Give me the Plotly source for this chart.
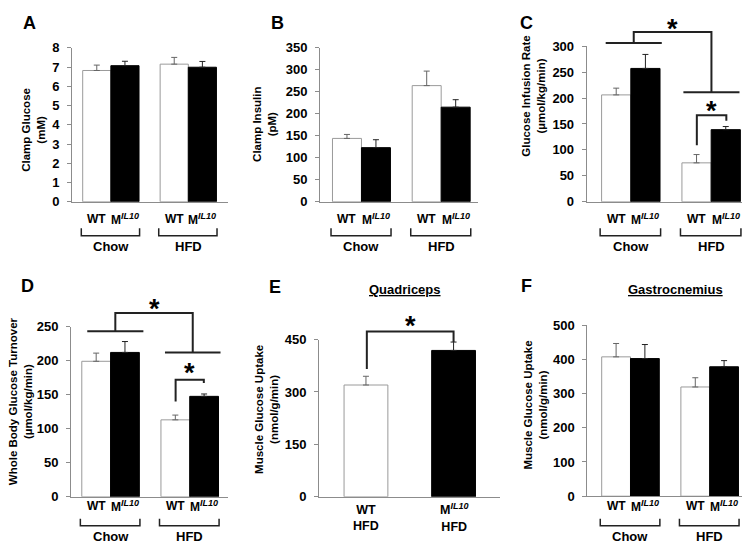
import plotly.graph_objects as go

# The page body has an 8px margin, so the figure is drawn 8px in from the
# top-left corner of the window; all positions below are window pixels.
WIN_W, WIN_H = 750, 558
OFF = 8
W, H = WIN_W - OFF, WIN_H - OFF
FONT = "Liberation Sans, Arial, sans-serif"

# ---- values (chow, HFD) ----
genotypes = ["WT", "M<sup><span style='font-size:9px'><i>IL10</i></span></sup>"]
diets = ["Chow", "HFD"]

glucose_wt = [6.82, 7.15]
glucose_wt_sem = [0.28, 0.35]
glucose_mil10 = [7.07, 6.99]
glucose_mil10_sem = [0.23, 0.30]

insulin_wt = [144, 264]
insulin_wt_sem = [9, 33]
insulin_mil10 = [123, 215]
insulin_mil10_sem = [18, 17]

gir_wt = [206, 75]
gir_wt_sem = [13, 16]
gir_mil10 = [257, 139]
gir_mil10_sem = [27, 6]

turnover_wt = [199, 113]
turnover_wt_sem = [12, 7]
turnover_mil10 = [212, 147.5]
turnover_mil10_sem = [16, 3.5]

# quadriceps: HFD only
quad_wt = [320]
quad_wt_sem = [25]
quad_mil10 = [419]
quad_mil10_sem = [24]

gastro_wt = [407, 319]
gastro_wt_sem = [39, 27]
gastro_mil10 = [402, 378]
gastro_mil10_sem = [41, 18]


def fx(sx):
    return (sx - OFF) / W


def fy(sy):
    return 1 - (sy - OFF) / H


# ---- panel geometry (window pixels) ----
panels = {
    "A": dict(n="", xpx=(72, 228), xr=(-0.88, 4.66), ypx=(200, 41.7), yr=(0, 8), dtick=1,
              letter=(29, 16), ytitle="Clamp Glucose<br>(mM)", tpos=(34, 126), tsize=11.5),
    "B": dict(n="2", xpx=(320, 478), xr=(-0.93, 4.52), ypx=(200, 41.7), yr=(0, 350), dtick=50,
              letter=(277, 16), ytitle="Clamp Insulin<br>(pM)", tpos=(265, 121), tsize=11.5),
    "C": dict(n="3", xpx=(586.7, 750), xr=(-1.01, 4.58), ypx=(200, 40), yr=(0, 300), dtick=50,
              letter=(526, 16), ytitle="Glucose Infusion Rate<br>(µmol/kg/min)", tpos=(534, 92), tsize=11.5),
    "D": dict(n="4", xpx=(71, 228), xr=(-0.875, 4.58), ypx=(503.3, 328.3), yr=(0, 250), dtick=50,
              letter=(27.5, 287), ytitle="Whole Body Glucose Turnover<br>(µmol/kg/min)", tpos=(20, 405), tsize=11.5),
    "E": dict(n="5", xpx=(319, 500), xr=(-0.536, 1.53), ypx=(503.3, 341.7), yr=(0, 450), dtick=150,
              letter=(275, 287.5), ytitle="Muscle Glucose Uptake<br>(nmol/g/min)", tpos=(267, 414), tsize=11.5),
    "F": dict(n="6", xpx=(587.3, 750), xr=(-1.0, 4.65), ypx=(502.7, 326.7), yr=(0, 500), dtick=100,
              letter=(526, 287), ytitle="Muscle Glucose Uptake<br>(nmol/g/min)", tpos=(535.5, 409), tsize=11.5),
}


def px(p, v):
    x0, x1 = p["xpx"]
    r0, r1 = p["xr"]
    return fx(x0 + (v - r0) / (r1 - r0) * (x1 - x0))


def py(p, v):
    b, t = p["ypx"]
    r0, r1 = p["yr"]
    return fy(b + (v - r0) / (r1 - r0) * (t - b))


fig = go.Figure()
wt_x = [0, 2.75]
mil_x = [1, 3.75]

series = {
    "A": (glucose_wt, glucose_wt_sem, glucose_mil10, glucose_mil10_sem),
    "B": (insulin_wt, insulin_wt_sem, insulin_mil10, insulin_mil10_sem),
    "C": (gir_wt, gir_wt_sem, gir_mil10, gir_mil10_sem),
    "D": (turnover_wt, turnover_wt_sem, turnover_mil10, turnover_mil10_sem),
    "E": (quad_wt, quad_wt_sem, quad_mil10, quad_mil10_sem),
    "F": (gastro_wt, gastro_wt_sem, gastro_mil10, gastro_mil10_sem),
}

for key, (wt, wt_e, mi, mi_e) in series.items():
    p = panels[key]
    xa, ya = "x" + p["n"], "y" + p["n"]
    if key == "E":
        xw, xm, bw = [0], [1], 0.5
    else:
        xw, xm, bw = wt_x, mil_x, 1
    fig.add_trace(go.Bar(
        x=xw, y=wt, width=bw, xaxis=xa, yaxis=ya,
        marker=dict(color="white", line=dict(color="#9a9a9a", width=1)),
        error_y=dict(type="data", array=wt_e, arrayminus=[0] * len(wt), symmetric=False,
                     color="#666666", thickness=1, width=3),
    ))
    fig.add_trace(go.Bar(
        x=xm, y=mi, width=bw, xaxis=xa, yaxis=ya,
        marker=dict(color="black", line=dict(color="black", width=1)),
        error_y=dict(type="data", array=mi_e, arrayminus=[0] * len(mi), symmetric=False,
                     color="#222222", thickness=1, width=3),
    ))

layout = dict(
    width=W, height=H, margin=dict(l=0, r=0, t=0, b=0),
    paper_bgcolor="white", plot_bgcolor="white",
    showlegend=False, barmode="overlay",
    font=dict(family=FONT, color="black"),
)
annotations = []
shapes = []
line_col = "#222222"

for key, p in panels.items():
    n = p["n"]
    layout["xaxis" + n] = dict(
        domain=[fx(p["xpx"][0]), fx(p["xpx"][1])], range=list(p["xr"]),
        anchor="y" + n, showline=True, linecolor="#8c8c8c", linewidth=1,
        showticklabels=False, ticks="", showgrid=False, zeroline=False, fixedrange=True,
    )
    layout["yaxis" + n] = dict(
        domain=[fy(p["ypx"][0]), fy(p["ypx"][1])], range=list(p["yr"]),
        anchor="x" + n, dtick=p["dtick"], showline=True, linecolor="#8c8c8c", linewidth=1,
        ticks="outside", ticklen=4, tickcolor="#8c8c8c", ticklabelstandoff=5,
        tickfont=dict(family=FONT, size=13, color="black", weight="bold"),
        showgrid=False, zeroline=False, fixedrange=True,
    )
    # panel letter
    annotations.append(dict(
        text=key, x=fx(p["letter"][0]), y=fy(p["letter"][1]), xref="paper", yref="paper",
        showarrow=False, xanchor="center", yanchor="middle",
        font=dict(family=FONT, size=18, weight="bold"),
    ))
    # y title
    annotations.append(dict(
        text=p["ytitle"], x=fx(p["tpos"][0]), y=fy(p["tpos"][1]), xref="paper", yref="paper",
        showarrow=False, textangle=-90, xanchor="center", yanchor="middle",
        font=dict(family=FONT, size=p["tsize"], weight="bold"),
    ))

    if key == "E":
        for xv, g in zip([0, 1], genotypes):
            annotations.append(dict(
                text=g + "<br>" + diets[1], x=px(p, xv), y=fy(525), xref="paper", yref="paper",
                showarrow=False, xanchor="center", yanchor="middle",
                font=dict(family=FONT, size=12.5, weight="bold"),
            ))
        continue

    top = p["ypx"][0] < 300
    g_y, b_t, b_b, d_y = (217.5, 227.3, 235, 246.5) if top else (512.5, 526, 533, 544)
    for i, (xw, xm) in enumerate(zip(wt_x, mil_x)):
        for xv, g in zip([xw, xm], genotypes):
            annotations.append(dict(
                text=g, x=px(p, xv), y=fy(g_y), xref="paper", yref="paper",
                showarrow=False, xanchor="center", yanchor="middle",
                font=dict(family=FONT, size=12, weight="bold"),
            ))
        l, r = px(p, xw - 0.55), px(p, xm + 0.52)
        yt, yb = fy(b_t), fy(b_b)
        shapes.append(dict(type="path", xref="paper", yref="paper",
                           path=f"M{l},{yt} L{l},{yb} L{r},{yb} L{r},{yt}",
                           line=dict(color=line_col, width=1.5)))
        annotations.append(dict(
            text=diets[i], x=px(p, (xw + xm) / 2), y=fy(d_y), xref="paper", yref="paper",
            showarrow=False, xanchor="center", yanchor="middle",
            font=dict(family=FONT, size=13, weight="bold"),
        ))


def seg_path(p, pts):
    return "M" + " L".join(f"{px(p, x)},{py(p, y)}" for x, y in pts)


def star(p, x, y):
    annotations.append(dict(
        text="*", x=px(p, x), y=py(p, y), xref="paper", yref="paper", yshift=-6,
        showarrow=False, xanchor="center", yanchor="middle",
        font=dict(family=FONT, size=27, weight="bold"),
    ))


# diet effect brackets (C, D) and genotype brackets within HFD
for key, chow_y, hfd_y, top_y, chow_span, hfd_span, star_y in [
    ("C", 306, 211, 327, (-0.36, 1.56), (2.30, 4.22), 344),
    ("D", 243, 212, 270, (-0.31, 1.64), (2.39, 4.32), 284),
]:
    p = panels[key]
    cm = sum(chow_span) / 2
    hm = sum(hfd_span) / 2
    for pts in ([(chow_span[0], chow_y), (chow_span[1], chow_y)],
                [(hfd_span[0], hfd_y), (hfd_span[1], hfd_y)],
                [(cm, chow_y), (cm, top_y), (hm, top_y), (hm, hfd_y)]):
        shapes.append(dict(type="path", xref="paper", yref="paper", path=seg_path(p, pts),
                           line=dict(color=line_col, width=2)))
    star(p, (cm + hm) / 2, star_y)

for key, xl, xr, yl, yt, yr, sy in [
    ("C", 2.76, 3.77, 109, 167, 156, 187),
    ("D", 2.76, 3.74, 140, 172, 167, 190),
    ("E", 0.01, 1.0, 366, 473, 443, 507),
]:
    p = panels[key]
    shapes.append(dict(type="path", xref="paper", yref="paper",
                       path=seg_path(p, [(xl, yl), (xl, yt), (xr, yt), (xr, yr)]),
                       line=dict(color=line_col, width=2)))
    star(p, (xl + xr) / 2, sy)

# muscle titles
for text, x, y in [("Quadriceps", 405, 290), ("Gastrocnemius", 675, 290.7)]:
    annotations.append(dict(
        text=f"<u>{text}</u>", x=fx(x), y=fy(y), xref="paper", yref="paper",
        showarrow=False, xanchor="center", yanchor="middle",
        font=dict(family=FONT, size=13, weight="bold"),
    ))

layout["annotations"] = annotations
layout["shapes"] = shapes
fig.update_layout(**layout)

fig.write_html("out.html")
